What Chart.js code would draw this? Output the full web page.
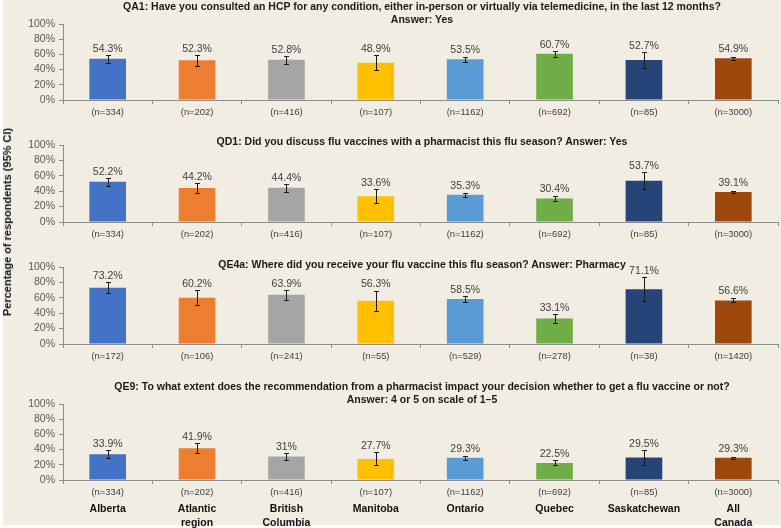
<!DOCTYPE html>
<html>
<head>
<meta charset="utf-8">
<script src="https://cdn.jsdelivr.net/npm/chart.js@4.4.1/dist/chart.umd.min.js"></script>
<style>
  body { margin: 0; background: #fff; }
  #wrap { position: relative; width: 781px; height: 528px; overflow: hidden; font-family: "Liberation Sans", Arial, sans-serif; }
  #bg { position: absolute; left: 3px; top: 0; width: 778px; height: 525px; background: #F1EDE3; }
  canvas { position: absolute; left: 0; }
  .ttl { position: absolute; left: 63px; width: 718px; text-align: center; font-weight: bold; font-size: 10.5px; line-height: 13px; color: #1a1a1a; white-space: nowrap; }
  #ytitle { position: absolute; left: 7px; top: 222px; transform: translate(-50%, -50%) rotate(-90deg); font-weight: bold; font-size: 11px; color: #1a1a1a; white-space: nowrap; }
</style>
</head>
<body>
<div id="wrap">
  <div id="bg"></div>
  <canvas id="c1" width="781" height="112" style="top:10px"></canvas>
  <canvas id="c2" width="781" height="113" style="top:131px"></canvas>
  <canvas id="c3" width="781" height="113" style="top:253px"></canvas>
  <canvas id="c4" width="781" height="140" style="top:390px"></canvas>
  <div class="ttl" style="top:0px">QA1: Have you consulted an HCP for any condition, either in-person or virtually via telemedicine, in the last 12 months?<br>Answer: Yes</div>
  <div class="ttl" style="top:135px">QD1: Did you discuss flu vaccines with a pharmacist this flu season? Answer: Yes</div>
  <div class="ttl" style="top:258px">QE4a: Where did you receive your flu vaccine this flu season? Answer: Pharmacy</div>
  <div class="ttl" style="top:380px">QE9: To what extent does the recommendation from a pharmacist impact your decision whether to get a flu vaccine or not?<br>Answer: 4 or 5 on scale of 1–5</div>
  <div id="ytitle">Percentage of respondents (95% CI)</div>
</div>
<script>
// categories and colours
const regions = ['Alberta', 'Atlantic region', 'British Columbia', 'Manitoba', 'Ontario', 'Quebec', 'Saskatchewan', 'All Canada'];
const regionColors = ['#4472C4', '#ED7D31', '#A5A5A5', '#FFC000', '#5B9BD5', '#70AD47', '#264478', '#9E480E'];
const yTicks = [0, 20, 40, 60, 80, 100];

// sample sizes
const nAll = [334, 202, 416, 107, 1162, 692, 85, 3000];
const nQE4a = [172, 106, 241, 55, 529, 278, 38, 1420];

// QA1
const qa1 = [54.3, 52.3, 52.8, 48.9, 53.5, 60.7, 52.7, 54.9];
const qa1Low = [49.0, 45.3, 48.0, 39.2, 50.6, 57.0, 42.0, 53.1];
const qa1High = [59.6, 59.3, 57.6, 58.6, 56.4, 64.4, 63.4, 56.7];

// QD1
const qd1 = [52.2, 44.2, 44.4, 33.6, 35.3, 30.4, 53.7, 39.1];
const qd1Low = [46.8, 37.5, 39.6, 24.5, 32.5, 27.0, 43.0, 37.3];
const qd1High = [57.6, 51.0, 49.2, 42.7, 38.1, 33.8, 64.4, 40.9];

// QE4a
const qe4a = [73.2, 60.2, 63.9, 56.3, 58.5, 33.1, 71.1, 56.6];
const qe4aLow = [65.8, 50.8, 57.6, 43.2, 54.3, 27.2, 55.7, 54.0];
const qe4aHigh = [80.6, 69.6, 70.2, 69.4, 62.7, 39.0, 86.5, 59.2];

// QE9
const qe9 = [33.9, 41.9, 31.0, 27.7, 29.3, 22.5, 29.5, 29.3];
const qe9Low = [28.8, 35.1, 26.5, 19.2, 26.6, 19.3, 19.8, 27.7];
const qe9High = [39.0, 48.7, 35.5, 36.2, 32.0, 25.7, 39.2, 30.9];

const axisColor = '#8c8c8c';
const fontFamily = '"Liberation Sans", Arial, sans-serif';

// whiskers for the 95% CI, value label sits just above the upper whisker
const errorBars = {
  id: 'errorBars',
  afterDatasetsDraw(chart, args, opts) {
    const ctx = chart.ctx;
    const y = chart.scales.y;
    const meta = chart.getDatasetMeta(0);
    const vals = chart.data.datasets[0].data;
    ctx.save();
    ctx.strokeStyle = '#1a1a1a';
    ctx.lineWidth = 1;
    meta.data.forEach((bar, i) => {
      const px = Math.round(bar.x) + 0.5;
      const yl = Math.round(y.getPixelForValue(opts.low[i])) + 0.5;
      const yh = Math.round(y.getPixelForValue(opts.high[i])) + 0.5;
      ctx.beginPath();
      ctx.moveTo(px, yl); ctx.lineTo(px, yh);
      ctx.moveTo(px - 2.5, yl); ctx.lineTo(px + 2.5, yl);
      ctx.moveTo(px - 2.5, yh); ctx.lineTo(px + 2.5, yh);
      ctx.stroke();
    });
    ctx.fillStyle = '#404040';
    ctx.font = '10.5px ' + fontFamily;
    ctx.textAlign = 'center';
    ctx.textBaseline = 'middle';
    meta.data.forEach((bar, i) => {
      const yh = y.getPixelForValue(opts.high[i]);
      ctx.fillText(vals[i] + '%', bar.x, Math.min(bar.y - 9, yh - 6));
    });
    ctx.restore();
  }
};

function makePanel(id, values, low, high, ns, withNames) {
  const scales = {
    x: {
      grid: { drawOnChartArea: false, offset: true, tickLength: 4, color: axisColor },
      border: { color: axisColor },
      ticks: {
        color: '#404040', font: { size: 9.4, family: fontFamily }, padding: 3,
        maxRotation: 0, autoSkip: false,
        callback: (v, i) => '(n=' + ns[i] + ')'
      },
      afterFit: s => { s.height = 22; }
    },
    y: {
      min: 0, max: 100,
      afterBuildTicks: s => { s.ticks = yTicks.map(v => ({ value: v })); },
      grid: { drawOnChartArea: false, tickLength: 4, color: axisColor },
      border: { color: axisColor },
      ticks: { color: '#595959', font: { size: 10.5, family: fontFamily }, padding: 4, autoSkip: false, callback: v => v + '%' },
      afterFit: s => { s.width = 63; }
    }
  };
  if (withNames) {
    scales.x2 = {
      type: 'category', position: 'bottom', weight: 1,
      labels: regions.map(r => r.split(' ')),
      grid: { display: false, drawTicks: false },
      border: { display: false },
      ticks: { color: '#111', font: { size: 10.5, weight: 'bold', family: fontFamily, lineHeight: 1.25 }, padding: 1, maxRotation: 0, autoSkip: false },
      afterFit: s => { s.height = 28; }
    };
  }
  new Chart(document.getElementById(id), {
    type: 'bar',
    data: {
      labels: regions,
      datasets: [{
        data: values,
        backgroundColor: regionColors,
        borderWidth: 0,
        barPercentage: 0.41,
        categoryPercentage: 1
      }]
    },
    options: {
      responsive: false,
      animation: false,
      layout: { padding: { top: 14, right: 3, left: 0, bottom: 0 } },
      scales: scales,
      plugins: {
        legend: { display: false },
        tooltip: { enabled: false },
        errorBars: { low: low, high: high }
      }
    },
    plugins: [errorBars]
  });
}

makePanel('c1', qa1, qa1Low, qa1High, nAll, false);
makePanel('c2', qd1, qd1Low, qd1High, nAll, false);
makePanel('c3', qe4a, qe4aLow, qe4aHigh, nQE4a, false);
makePanel('c4', qe9, qe9Low, qe9High, nAll, true);
</script>
</body>
</html>
